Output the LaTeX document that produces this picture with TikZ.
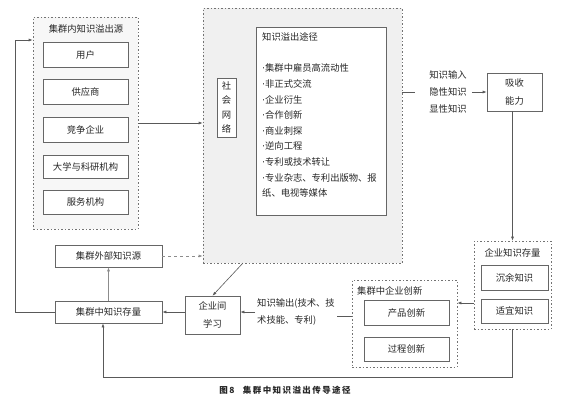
\documentclass[tikz,border=0pt]{standalone}
\usepackage{fontspec}
\setmainfont{Noto Sans CJK SC}
\newfontfamily\dvfont{DejaVu Sans}
\newcommand\bdot{{\dvfont ·}}
\usetikzlibrary{arrows.meta,calc}
\begin{document}
\begin{tikzpicture}[x=1pt,y=-1pt,
  every node/.style={font=\fontsize{9.3}{12}\selectfont, text=black!85},
  sbox/.style={draw=black!60, line width=0.6pt, fill=white, inner sep=0pt, minimum width=#1},
  dbox/.style={draw=black!55, line width=0.6pt, dash pattern=on 1.5pt off 2pt, inner sep=0pt},
  arr/.style={draw=black!65, line width=0.6pt, -{Latex[length=4pt,width=3pt]}},
  ln/.style={draw=black!65, line width=0.6pt},
  lbl/.style={inner sep=0pt, align=left, font=\fontsize{9.3}{17}\selectfont}
]
\useasboundingbox (0,0) rectangle (570,402);
% left source box
\node[dbox, fill=black!3, minimum width=105pt, minimum height=212pt] (src) at (85.5,123) {};
\node[inner sep=0pt] (srcT) at (86,29) {集群内知识溢出源};
\node[sbox=85pt, minimum height=25pt] (u1) at (85.5,54.5) {用户};
\node[sbox=85pt, minimum height=25pt] (u2) at (85.5,92) {供应商};
\node[sbox=85pt, minimum height=25pt] (u3) at (85.5,130) {竞争企业};
\node[sbox=85pt, minimum height=23pt] (u4) at (85.5,167) {大学与科研机构};
\node[sbox=85pt, minimum height=24pt] (u5) at (85.5,202) {服务机构};
% middle box
\node[dbox, fill=black!6, minimum width=199pt, minimum height=255pt] (mid) at (302.5,135.5) {};
\node[sbox=19pt, minimum height=59pt, align=center, font=\fontsize{9.3}{14.6}\selectfont] (sn) at (226.5,107.5) {社\\会\\网\\络};
\node[sbox=130pt, minimum height=188pt] (pb) at (321,121) {};
\node[lbl, anchor=north west, font=\fontsize{9.3}{15.6}\selectfont] (pt) at (262,32.5) {知识溢出途径\\[15.6pt]
\bdot 集群中雇员高流动性\\
\bdot 非正式交流\\
\bdot 企业衍生\\
\bdot 合作创新\\
\bdot 商业刺探\\
\bdot 逆向工程\\
\bdot 专利或技术转让\\
\bdot 专业杂志、专利出版物、报\\
纸、电视等媒体};
% input label and absorb box
\node[lbl] (inL) at (448,92) {知识输入\\隐性知识\\显性知识};
\node[sbox=55pt, minimum height=38pt, align=center, font=\fontsize{9.3}{18}\selectfont] (xs) at (514.5,92) {吸收\\能力};
% enterprise knowledge stock
\node[dbox, fill=white, minimum width=77pt, minimum height=88pt] (es) at (512.5,285) {};
\node[inner sep=0pt] (esT) at (512.5,253) {企业知识存量};
\node[sbox=67pt, minimum height=25pt] (e1) at (514.5,277.5) {沉余知识};
\node[sbox=67pt, minimum height=24pt] (e2) at (514.5,311) {适宜知识};
% cluster innovation
\node[dbox, fill=white, minimum width=105pt, minimum height=87pt] (ci) at (404.5,323.5) {};
\node[inner sep=0pt, anchor=west] (ciT) at (357,291) {集群中企业创新};
\node[sbox=85pt, minimum height=25pt] (c1) at (406.5,312.5) {产品创新};
\node[sbox=85pt, minimum height=24pt] (c2) at (406.5,349) {过程创新};
% output label
\node[lbl, anchor=west] (outL) at (257,312) {知识输出(技术、技\\术技能、专利)};
% inter-firm learning
\node[sbox=55pt, minimum height=38pt, align=center, font=\fontsize{9.3}{18}\selectfont] (lr) at (212.5,315) {企业间\\学习};
% cluster stock and external source
\node[sbox=107pt, minimum height=22pt] (st) at (108.5,312) {集群中知识存量};
\node[sbox=107pt, minimum height=22pt] (ext) at (108.5,256) {集群外部知识源};
% caption
\node[inner sep=0pt, font=\fontsize{8.5}{10}\bfseries\selectfont] (cap) at (285,390) {图\,8\quad 集\,群\,中\,知\,识\,溢\,出\,传\,导\,途\,径};
% connectors
\coordinate (lc) at (15,40);
\draw[arr] (st.west) -| (lc) -- (lc -| src.west);
\draw[arr] (src.east) -- (src.east -| mid.west);
\draw[arr, dashed, draw=black!45] (ext.east) -- (ext.east -| mid.west);
\coordinate (m1) at (243,263);
\draw[arr] (m1) -- (lr.north);
\draw[ln] (mid.east |- inL) -- ($(inL.west)+(-14,0)$);
\draw[arr] ($(inL.east)+(5,0)$) -- (xs.west);
\draw[arr] (xs.south -| es.north) -- (es.north);
\coordinate (r1) at (0,303);
\draw[arr] (es.west |- r1) -- (ci.east |- r1);
\draw[ln] (ci.west |- 0,316) -- ($(outL.east |- 0,316)+(2,0)$);
\draw[arr] ($(outL.west |- 0,312)+(-2,0)$) -- (lr.east |- 0,312);
\draw[arr] (lr.west |- st.east) -- (st.east);
\draw[arr, draw=black!45] (st.north) -- (ext.south);
\coordinate (bl) at (103,377);
\draw[arr] (es.south) |- (bl) -- (bl |- st.south);
\end{tikzpicture}
\end{document}
